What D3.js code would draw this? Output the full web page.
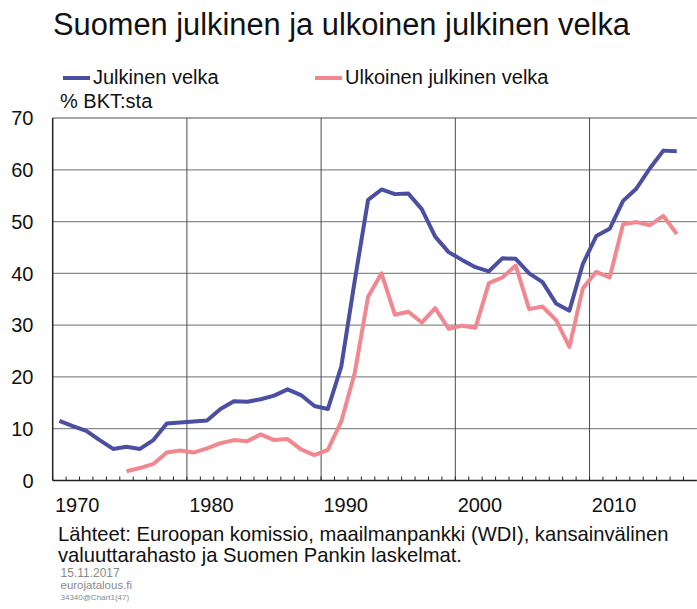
<!DOCTYPE html>
<html>
<head>
<meta charset="utf-8">
<script src="https://d3js.org/d3.v7.min.js"></script>
<style>
  body { margin: 0; background: #fff; }
  svg text { font-family: "Liberation Sans", Arial, sans-serif; fill: #111; }
</style>
</head>
<body>
<div id="chart"></div>
<script>
    // vuodet 1970-2016
    const years = [1970, 1971, 1972, 1973, 1974, 1975, 1976, 1977, 1978, 1979,
                   1980, 1981, 1982, 1983, 1984, 1985, 1986, 1987, 1988, 1989,
                   1990, 1991, 1992, 1993, 1994, 1995, 1996, 1997, 1998, 1999,
                   2000, 2001, 2002, 2003, 2004, 2005, 2006, 2007, 2008, 2009,
                   2010, 2011, 2012, 2013, 2014, 2015, 2016];

    const publicDebt = [11.5, 10.5, 9.6, 7.8, 6.1, 6.5, 6.1, 7.8, 11.0, 11.2,
                        11.4, 11.6, 13.8, 15.3, 15.2, 15.7, 16.4, 17.6, 16.5, 14.4,
                        13.8, 22.0, 38.5, 54.2, 56.2, 55.3, 55.4, 52.4, 47.1, 44.1,
                        42.6, 41.2, 40.4, 42.9, 42.8, 40.0, 38.3, 34.2, 32.8, 41.8,
                        47.2, 48.6, 54.0, 56.4, 60.3, 63.7, 63.6];

    const externalDebt = [null, null, null, null, null, 1.8, 2.4, 3.2, 5.4, 5.8,
                          5.4, 6.2, 7.2, 7.8, 7.6, 8.9, 7.8, 8.0, 6.0, 4.9,
                          5.9, 11.4, 20.7, 35.5, 40.0, 32.0, 32.6, 30.5, 33.3, 29.3,
                          29.9, 29.5, 38.1, 39.2, 41.5, 33.1, 33.6, 31.0, 25.8, 37.1,
                          40.3, 39.2, 49.5, 49.9, 49.3, 51.1, 47.6];

    const yTicks = [0, 10, 20, 30, 40, 50, 60, 70];
    const decadeLabels = [1970, 1980, 1990, 2000, 2010];

    (function() {
        const width = 697, height = 609;
        const svg = d3.select("#chart").append("svg")
            .attr("width", width)
            .attr("height", height);

        // kategoria-akseli: vuoden piste keskellä, jakoviivat vuosien välissä
        const x = d3.scaleLinear().domain([1969.5, 2017.5]).range([52.7, 696.9]);
        const y = d3.scaleLinear().domain([0, 70]).range([480.5, 118]);

        // otsikko
        svg.append("text")
            .attr("x", 53).attr("y", 35)
            .style("font-size", "30.8px")
            .text("Suomen julkinen ja ulkoinen julkinen velka");

        // selite
        const legend = [
            {name: "Julkinen velka", color: "#4b4fa2", x: 63},
            {name: "Ulkoinen julkinen velka", color: "#f2878f", x: 315}
        ];
        const lg = svg.selectAll(".legend").data(legend).enter().append("g")
            .attr("class", "legend");
        lg.append("line")
            .attr("x1", d => d.x).attr("x2", d => d.x + 27)
            .attr("y1", 78).attr("y2", 78)
            .attr("stroke", d => d.color).attr("stroke-width", 4);
        lg.append("text")
            .attr("x", d => d.x + 30).attr("y", 84)
            .style("font-size", "20px")
            .text(d => d.name);

        svg.append("text")
            .attr("x", 60).attr("y", 108)
            .style("font-size", "20px")
            .text("% BKT:sta");

        // vaakaviivat
        svg.selectAll(".hgrid").data(yTicks.filter(t => t > 0)).enter().append("line")
            .attr("class", "hgrid")
            .attr("x1", x(1969.5)).attr("x2", x(2017.5))
            .attr("y1", d => y(d)).attr("y2", d => y(d))
            .attr("stroke", "#8a8a8a").attr("stroke-width", 1.3);

        // pystyviivat vuosikymmenten alussa
        svg.selectAll(".vgrid").data(decadeLabels.filter(d => d > 1970)).enter().append("line")
            .attr("class", "vgrid")
            .attr("x1", d => x(d - 0.5)).attr("x2", d => x(d - 0.5))
            .attr("y1", y(70)).attr("y2", y(0))
            .attr("stroke", "#4a4a4a").attr("stroke-width", 1);

        // y-akselin numerot
        svg.selectAll(".ylab").data(yTicks).enter().append("text")
            .attr("class", "ylab")
            .attr("x", 33.5).attr("y", d => y(d))
            .attr("dy", "0.36em")
            .attr("text-anchor", "end")
            .style("font-size", "20px")
            .text(d => d);

        // vuosien jakomerkit
        const boundaries = years.map(d => d - 0.5).concat([years[years.length - 1] + 0.5]);
        svg.selectAll(".xtick").data(boundaries).enter().append("line")
            .attr("class", "xtick")
            .attr("x1", d => x(d)).attr("x2", d => x(d))
            .attr("y1", y(0) - 4).attr("y2", y(0))
            .attr("stroke", "#222").attr("stroke-width", 1);

        // akselit
        svg.append("line")
            .attr("x1", x(1969.5)).attr("x2", x(1969.5))
            .attr("y1", y(70)).attr("y2", y(0))
            .attr("stroke", "#222").attr("stroke-width", 1.5);
        svg.append("line")
            .attr("x1", x(1969.5)).attr("x2", x(2017.5))
            .attr("y1", y(0)).attr("y2", y(0))
            .attr("stroke", "#222").attr("stroke-width", 1.5);

        svg.selectAll(".xlab").data(decadeLabels).enter().append("text")
            .attr("class", "xlab")
            .attr("x", d => x(d - 0.5) + 2.3).attr("y", 512)
            .style("font-size", "20px")
            .text(d => d);

        // sarjat
        const line = d3.line()
            .defined(d => d.v !== null)
            .x(d => x(d.year))
            .y(d => y(d.v));

        const series = [
            {values: externalDebt, color: "#f2878f"},
            {values: publicDebt, color: "#4b4fa2"}
        ];
        svg.selectAll(".series").data(series).enter().append("path")
            .attr("class", "series")
            .attr("d", s => line(years.map((yr, i) => ({year: yr, v: s.values[i]}))))
            .attr("fill", "none")
            .attr("stroke", s => s.color)
            .attr("stroke-width", 4)
            .attr("stroke-linejoin", "round");

        // lähteet
        svg.append("text")
            .attr("x", 58).attr("y", 541)
            .style("font-size", "20.2px")
            .text("Lähteet: Euroopan komissio, maailmanpankki (WDI), kansainvälinen");
        svg.append("text")
            .attr("x", 58).attr("y", 562)
            .style("font-size", "20.2px")
            .text("valuuttarahasto ja Suomen Pankin laskelmat.");

        svg.append("text")
            .attr("x", 60.5).attr("y", 577)
            .style("font-size", "12px").style("fill", "#8a8a8a")
            .text("15.11.2017");
        svg.append("text")
            .attr("x", 60.5).attr("y", 589)
            .style("font-size", "11.5px").style("fill", "#8a8a8a")
            .text("eurojatalous.fi");
        svg.append("text")
            .attr("x", 60.5).attr("y", 600)
            .style("font-size", "8px").style("fill", "#8a8a8a")
            .text("34340@Chart1(47)");
    })();
</script>
</body>
</html>
